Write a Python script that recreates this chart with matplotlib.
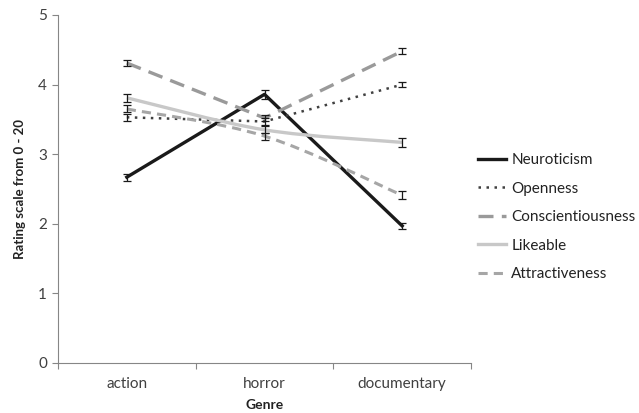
import matplotlib
matplotlib.use("Agg")
import matplotlib.pyplot as plt
from matplotlib.path import Path
from matplotlib.patches import PathPatch
from matplotlib.lines import Line2D
import numpy as np

genres = ["action", "horror", "documentary"]
neuroticism = [2.67, 3.86, 1.97]
openness = [3.53, 3.47, 4.00]
conscientiousness = [4.31, 3.52, 4.48]
likeable = [3.81, 3.35, 3.17]
attractiveness = [3.65, 3.26, 2.41]
err_neuroticism = [0.05, 0.06, 0.04]
err_openness = [0.05, 0.05, 0.04]
err_conscientiousness = [0.04, 0.05, 0.04]
err_likeable = [0.06, 0.05, 0.06]
err_attractiveness = [0.05, 0.05, 0.06]
series_names = ["Neuroticism", "Openness", "Conscientiousness", "Likeable", "Attractiveness"]

plt.rcParams['font.family'] = ['Lato', 'DejaVu Sans']

fig = plt.figure(figsize=(6.39, 4.13), dpi=100)
ax = fig.add_axes([58/639, 50/413, (471-58)/639, (363-15)/413])

styles = [
    dict(color="#1a1a1a", lw=2.4, ls="-", smooth=False),
    dict(color="#404040", lw=1.8, ls=(0, (1, 2.2)), smooth=False),
    dict(color="#9a9a9a", lw=2.4, ls=(0, (4.5, 2.5)), smooth=False),
    dict(color="#c8c8c8", lw=2.4, ls="-", smooth=True),
    dict(color="#a6a6a6", lw=2.2, ls=(0, (3, 2)), smooth=True),
]
data = [neuroticism, openness, conscientiousness, likeable, attractiveness]
errs = [err_neuroticism, err_openness, err_conscientiousness, err_likeable, err_attractiveness]
x = np.arange(len(genres))

def smooth_path(xs, ys):
    pts = list(zip(xs, ys))
    verts = [pts[0]]
    codes = [Path.MOVETO]
    n = len(pts)
    for i in range(n - 1):
        p0 = pts[i - 1] if i > 0 else pts[i]
        p1 = pts[i]
        p2 = pts[i + 1]
        p3 = pts[i + 2] if i + 2 < n else pts[i + 1]
        c1 = (p1[0] + (p2[0] - p0[0]) / 6, p1[1] + (p2[1] - p0[1]) / 6)
        c2 = (p2[0] - (p3[0] - p1[0]) / 6, p2[1] - (p3[1] - p1[1]) / 6)
        verts += [c1, c2, p2]
        codes += [Path.CURVE4] * 3
    return Path(verts, codes)

handles = []
for name, ys, es, st in zip(series_names, data, errs, styles):
    if st["smooth"]:
        patch = PathPatch(smooth_path(x, ys), facecolor="none", edgecolor=st["color"],
                          lw=st["lw"], ls=st["ls"], capstyle="butt", zorder=2)
        ax.add_patch(patch)
    else:
        ax.plot(x, ys, color=st["color"], lw=st["lw"], ls=st["ls"], zorder=2)
    ax.errorbar(x, ys, yerr=es, fmt="none", ecolor="#1a1a1a", elinewidth=0.9,
                capsize=3, capthick=0.9, zorder=3)
    handles.append(Line2D([0], [0], color=st["color"], lw=st["lw"], ls=st["ls"]))

ax.set_xlim(-0.5, 2.5)
ax.set_ylim(0, 5)
ax.set_yticks([0, 1, 2, 3, 4, 5])
ax.set_xticks(x)
ax.set_xticklabels(genres)
ax.set_xticks([-0.5, 0.5, 1.5, 2.5], minor=True)
ax.tick_params(axis="x", which="major", length=0, labelsize=11, colors="#404040", pad=10)
ax.tick_params(axis="x", which="minor", length=4, color="#868686", width=0.8)
ax.tick_params(axis="y", length=4, color="#868686", width=0.8, labelsize=11, labelcolor="#404040", pad=4)
for s in ["top", "right"]:
    ax.spines[s].set_visible(False)
for s in ["left", "bottom"]:
    ax.spines[s].set_color("#868686")
    ax.spines[s].set_linewidth(0.8)

ax.set_xlabel("Genre", fontsize=10, fontweight="bold", color="#222222", labelpad=6)
ax.set_ylabel("Rating scale from 0 - 20", fontsize=9.5, fontweight="bold", color="#222222", labelpad=9)

fig.legend(handles, series_names, loc="upper left", bbox_to_anchor=(478/639, 1 - 153/413),
           frameon=False, fontsize=11, handlelength=1.85, handletextpad=0.33,
           labelspacing=0.95, labelcolor="#222222", borderpad=0, borderaxespad=0)

fig.savefig("out.png", dpi=100)
